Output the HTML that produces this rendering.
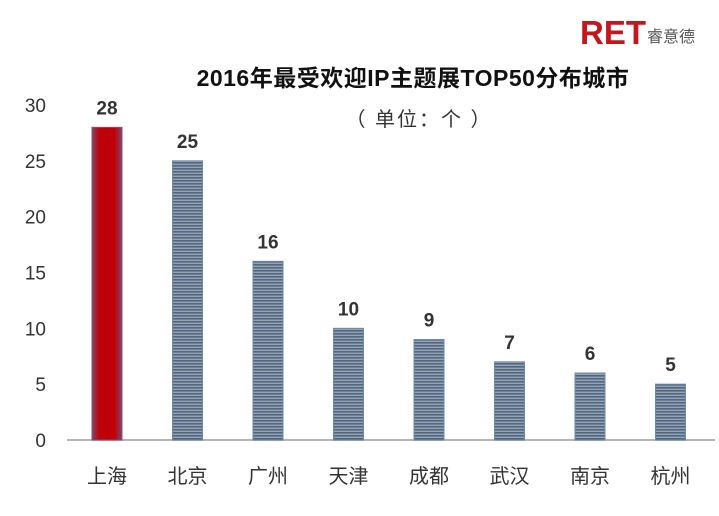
<!DOCTYPE html>
<html><head><meta charset="utf-8"><style>
body{margin:0;background:#fff;width:719px;height:511px;overflow:hidden;font-family:"Liberation Sans","Noto Sans CJK SC",sans-serif}
</style></head><body>
<svg id="chart" width="719" height="511" xmlns="http://www.w3.org/2000/svg">
<defs>
<pattern id="stripe" width="4" height="3" patternUnits="userSpaceOnUse">
<rect width="4" height="3" fill="#9aa3ad"/><rect width="4" height="1.6" fill="#4d6785"/>
</pattern>
<linearGradient id="redg" x1="0" x2="1"><stop offset="0" stop-color="#7a4868"/><stop offset="0.25" stop-color="#c00008"/><stop offset="0.75" stop-color="#c00008"/><stop offset="1" stop-color="#7a4868"/></linearGradient>
</defs>
<g>
<text x="580" y="44" font-size="33" font-weight="bold" fill="#c4161c" font-family="Liberation Sans, sans-serif">RET</text>
<text x="647" y="42" font-size="16" fill="#555">睿意德</text>
</g>
<text x="413" y="86" font-size="23" font-weight="bold" text-anchor="middle" fill="#111" letter-spacing="0.5">2016年最受欢迎IP主题展TOP50分布城市</text>
<text x="419" y="126" font-size="20" text-anchor="middle" fill="#333" letter-spacing="2">（ 单位：个 ）</text>
<g id="yaxis"></g>
<line x1="67" y1="440" x2="715" y2="440" stroke="#b5b5b5" stroke-width="2"/>
<g id="bars"></g>
</svg>
<script>
const categories=["上海","北京","广州","天津","成都","武汉","南京","杭州"];
const values=[28,25,16,10,9,7,6,5];
const yTicks=[0,5,10,15,20,25,30];
const svg=document.getElementById('chart');
const NS="http://www.w3.org/2000/svg";
const y=v=>440-v*(335/30);
const x=i=>107+i*80.5;
const ya=document.getElementById('yaxis');
yTicks.forEach(t=>{
 const el=document.createElementNS(NS,'text');
 el.setAttribute('x',46);el.setAttribute('y',y(t)+7);el.setAttribute('text-anchor','end');
 el.setAttribute('font-size','19');el.setAttribute('fill','#333');
 
 
 el.textContent=t;ya.appendChild(el);
});
const g=document.getElementById('bars');
values.forEach((v,i)=>{
 const r=document.createElementNS(NS,'rect');
 r.setAttribute('x',x(i)-15);r.setAttribute('width',30);
 r.setAttribute('y',y(v));r.setAttribute('height',440-y(v));
 r.setAttribute('fill',i===0?'url(#redg)':'url(#stripe)');
 r.setAttribute('stroke',i===0?'#8a5070':'#6a88aa');r.setAttribute('stroke-width','1');
 
 
 g.appendChild(r);
 const l=document.createElementNS(NS,'text');
 l.setAttribute('x',x(i));l.setAttribute('y',y(v)-13);l.setAttribute('text-anchor','middle');
 l.setAttribute('font-size','19');l.setAttribute('font-weight','bold');l.setAttribute('fill','#333');
 
 
 l.textContent=v;g.appendChild(l);
 const c=document.createElementNS(NS,'text');
 c.setAttribute('x',x(i));c.setAttribute('y',483);c.setAttribute('text-anchor','middle');
 c.setAttribute('font-size','20');c.setAttribute('fill','#333');
 
 
 c.textContent=categories[i];g.appendChild(c);
});
</script>
</body></html>
